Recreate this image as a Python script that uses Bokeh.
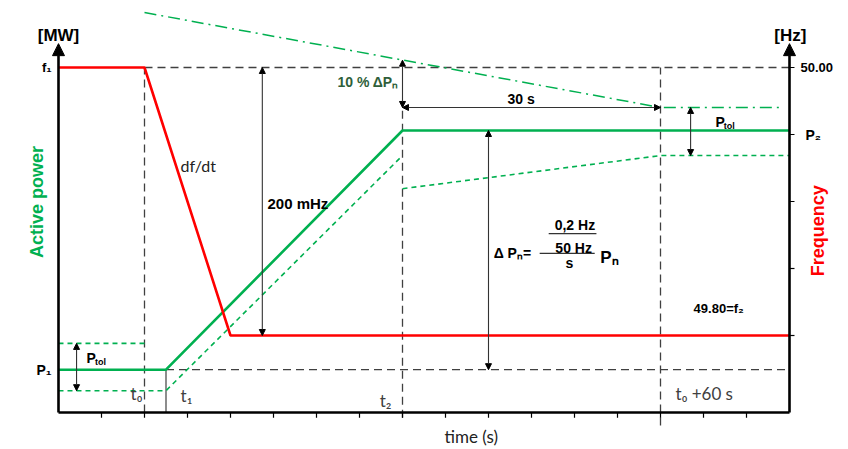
import math
from bokeh.plotting import figure
from bokeh.models import Range1d, Arrow, NormalHead, Label
from bokeh.embed import file_html
from bokeh.resources import INLINE

# ---- data (time in grid units of 5 s, power in relative MW units, frequency in Hz)
t_red = [0, 2, 4, 17]
f_red = [50.00, 50.00, 49.80, 49.80]

t_pow = [0, 2.5, 8, 17]
p_pow = [10.6, 10.6, 69.8, 69.8]

t_tol_up = [0, 2]
p_tol_up = [17.1, 17.1]
t_tol_lo1 = [0, 2.5, 8]
p_tol_lo1 = [5.4, 5.4, 63.6]
t_tol_lo2 = [8, 14, 17]
p_tol_lo2 = [55.4, 63.6, 63.6]

t_upper = [2, 14, 16.85]
p_upper = [99.0, 75.5, 75.5]

x_ticks = list(range(1, 17))
f_ticks = [49.80, 49.85, 49.90, 49.95, 50.00]
f_tick_labels = ["", "", "", "P\u2082", "50.00"]
p_tick_vals = [10.6]
p_tick_labels = ["P\u2081"]

T0, T1, T2, T60 = 2, 2.5, 8, 14
F_LO, F_HI = 49.71642, 50.05

GREEN = "#00b050"
RED = "#ff0000"
DK = "#404040"
BOLD = "Liberation Sans"
REG = "Lato"

p = figure(width=846, height=447, output_backend="svg", toolbar_location=None,
           x_range=Range1d(-1.3488, 18.3256), y_range=Range1d(-8.663, 101.98), title=None,
           x_axis_location=None, y_axis_location=None,
           min_border_left=0, min_border_right=0, min_border_top=0, min_border_bottom=0)
p.extra_y_ranges = {"freq": Range1d(F_LO, F_HI)}
p.xgrid.visible = False
p.ygrid.visible = False
p.outline_line_color = None
p.background_fill_color = "white"
p.border_fill_color = "white"

# reference dashed lines
p.line([T0, 17], [50.0, 50.0], y_range_name="freq", line_color=DK, line_width=1.3, line_dash="8 5")
p.line([T0, T0], [49.7425, 50.0], y_range_name="freq", line_color=DK, line_width=1.3, line_dash="8 5")
p.line([T60, T60], [49.7328, 50.0], y_range_name="freq", line_color=DK, line_width=1.3, line_dash="8 5")
p.line([T1, 17], [p_pow[0], p_pow[0]], line_color=DK, line_width=1.3, line_dash="8 5")
p.line([T2, T2], [-1.3, p_upper[1]], line_color=DK, line_width=1.3, line_dash="8 5")
p.line([T1, T1], [0, p_pow[0]], line_color=DK, line_width=1.2)

# green power curves
p.line(t_upper, p_upper, line_color=GREEN, line_width=1.5, line_dash="12 5 2 5")
p.line(t_tol_up, p_tol_up, line_color=GREEN, line_width=1.6, line_dash="5 4")
p.line(t_tol_lo1, p_tol_lo1, line_color=GREEN, line_width=1.6, line_dash="5 4")
p.line(t_tol_lo2, p_tol_lo2, line_color=GREEN, line_width=1.6, line_dash="5 4")
p.line(t_pow, p_pow, line_color=GREEN, line_width=2.6)

# red frequency
p.line(t_red, f_red, y_range_name="freq", line_color=RED, line_width=2.6)

# time axis: line and ticks
p.segment(x0=[0], y0=[0], x1=[17], y1=[0], line_color="black", line_width=2.6)
p.segment(x0=x_ticks, y0=[0] * len(x_ticks), x1=x_ticks, y1=[-1.3] * len(x_ticks),
          line_color="black", line_width=1.2)

# vertical axes with arrow heads
for xx in (0, 17):
    p.add_layout(Arrow(end=NormalHead(size=12, fill_color="black", line_color="black"),
                       x_start=xx, y_start=0, x_end=xx, y_end=91.3,
                       line_color="black", line_width=2.6))

# right-axis ticks (frequency scale)
p.segment(x0=[17] * len(f_ticks), y0=f_ticks, x1=[17.116] * len(f_ticks), y1=f_ticks,
          y_range_name="freq", line_color="black", line_width=1.2)


def lab(x, y, text, size=13, bold=True, color="black", align="left", angle=0.0, rng=None):
    kw = {}
    if rng:
        kw["y_range_name"] = rng
    p.add_layout(Label(x=x, y=y, text=text, text_font=BOLD if bold else REG,
                       text_font_style="bold" if bold else "normal",
                       text_font_size=f"{size}px", text_color=color, text_align=align,
                       text_baseline="middle", angle=angle, **kw))


for fv, ft in zip(f_ticks, f_tick_labels):
    if ft == "50.00":
        lab(17.256, fv, ft, 13, rng="freq")
    elif ft:
        lab(17.37, fv, ft, 14, rng="freq")
for pv, pt in zip(p_tick_vals, p_tick_labels):
    lab(-0.16, pv, pt, 14, align="right")
lab(-0.16, 50.0, "f\u2081", 13, align="right", rng="freq")


def dim_arrow(x0, y0, x1, y1, rng=None):
    kw = {}
    if rng:
        kw["y_range_name"] = rng
    p.add_layout(Arrow(start=NormalHead(size=6, fill_color="black", line_color="black"),
                       end=NormalHead(size=6, fill_color="black", line_color="black"),
                       x_start=x0, y_start=y0, x_end=x1, y_end=y1,
                       line_color="#333333", line_width=1.1, **kw))


dim_arrow(0.42, p_tol_up[0], 0.42, p_tol_lo1[0])
dim_arrow(4.74, 50.0, 4.74, 49.80, "freq")
dim_arrow(T2, 87.2, T2, p_upper[1])
dim_arrow(T2, p_upper[1], T60, p_upper[1])
dim_arrow(10, p_pow[-1], 10, p_pow[0])
dim_arrow(14.7, p_upper[1], 14.7, p_tol_lo2[-1])

lab(0, 93.4, "[MW]", 17, align="center")
lab(17.02, 93.4, "[Hz]", 17, align="center")
lab(-0.49, 52.1, "Active power", 18, color=GREEN, align="center", angle=math.pi / 2)
lab(17.67, 45.0, "Frequency", 18, color=RED, align="center", angle=math.pi / 2)

lab(2.84, 61.1, "df/dt", 16, bold=False, color="#222222")
lab(4.86, 51.7, "200 mHz", 15)
lab(7.91, 81.7, "10 % \u0394P\u2099", 14, color="#2f5f3a", align="right")
lab(10.76, 77.5, "30 s", 14, align="center")

lab(0.65, 13.4, "P", 14)
lab(0.85, 12.4, "tol", 9)
lab(15.28, 71.8, "P", 14)
lab(15.47, 70.9, "tol", 9)

lab(10.12, 39.4, "\u0394 P\u2099=", 14)
lab(12.01, 46.3, "0,2 Hz", 14, align="center")
p.segment(x0=[11.40], y0=[44.3], x1=[12.51], y1=[44.3], line_color="#333333", line_width=1.2)
lab(11.98, 40.8, "50 Hz", 14, align="center")
p.segment(x0=[11.19], y0=[39.4], x1=[12.47], y1=[39.4], line_color="#333333", line_width=1.2)
lab(11.88, 37.1, "s", 14, align="center")
lab(12.60, 38.4, "P\u2099", 17)

lab(14.77, 25.7, "49.80=f\u2082", 13)

lab(1.95, 4.7, "t\u2080", 17, bold=False, color=DK, align="right")
lab(2.84, 4.2, "t\u2081", 17, bold=False, color=DK)
lab(7.47, 3.0, "t\u2082", 17, bold=False, color=DK)
lab(14.35, 4.7, "t\u2080 +60 s", 17, bold=False, color=DK)
lab(9.60, -6.0, "time (s)", 17, bold=False, color="#222222", align="center")

open("out.html", "w").write(file_html(p, INLINE))
